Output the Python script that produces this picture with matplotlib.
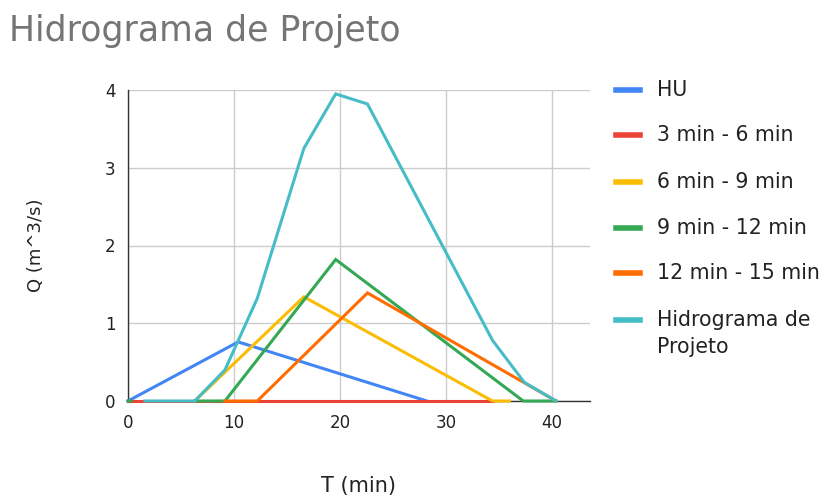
import matplotlib
matplotlib.use("Agg")
import matplotlib.pyplot as plt
from matplotlib.lines import Line2D

plt.rcParams['font.family'] = ['DejaVu Sans']

# Data
hu_t = [0, 10.4, 28.2]
hu_q = [0, 0.76, 0]

r36_t = [0, 34.4]
r36_q = [0, 0]

r69_t = [6.3, 16.6, 34.4, 36.0]
r69_q = [0, 1.34, 0, 0]

r912_t = [0, 0.3, None, 6.3, 9.15, 19.6, 37.3, 40.4]
r912_q = [0, 0, None, 0, 0, 1.82, 0, 0]

r1215_t = [9.15, 12.2, 22.6, 40.4]
r1215_q = [0, 0, 1.39, 0]

hp_t = [1.6, 6.3, 9.15, 12.2, 16.6, 19.6, 22.6, 34.4, 37.4, 40.4]
hp_q = [0, 0, 0.40, 1.32, 3.25, 3.95, 3.82, 0.78, 0.24, 0]

labels = ["HU", "3 min - 6 min", "6 min - 9 min", "9 min - 12 min",
          "12 min - 15 min", "Hidrograma de\nProjeto"]
colors = ["#4285F4", "#EA4335", "#FBBC04", "#34A853", "#FF6D01", "#46BDC6"]

x_ticks = [0, 10, 20, 30, 40]
y_ticks = [0, 1, 2, 3, 4]

fig = plt.figure(figsize=(8.2, 4.95), dpi=100)
ax = fig.add_axes([128/820, 1-401/495, (590-128)/820, (401-90)/495])

series = [(hu_t, hu_q), (r36_t, r36_q), (r69_t, r69_q), (r912_t, r912_q),
          (r1215_t, r1215_q), (hp_t, hp_q)]
for (t, q), c in zip(series, colors):
    tt = [float('nan') if v is None else v for v in t]
    qq = [float('nan') if v is None else v for v in q]
    ax.plot(tt, qq, color=c, lw=2.2, solid_joinstyle='miter', zorder=3, clip_on=False)

ax.set_xlim(0, 43.6)
ax.set_ylim(0, 4)
ax.set_xticks(x_ticks)
ax.set_yticks(y_ticks)
ax.grid(True, color="#cccccc", lw=1)
ax.set_axisbelow(True)
for s in ["top", "right"]:
    ax.spines[s].set_visible(False)
ax.spines["left"].set_color("#333333")
ax.spines["bottom"].set_color("#333333")
ax.spines["left"].set_linewidth(1)
ax.spines["bottom"].set_linewidth(1)
ax.tick_params(length=0, labelsize=12, colors="#222222", pad=9)
ax.tick_params(axis='x', pad=9)

fig.text(359/820, 1-486/495, "T (min)", ha="center", va="center", fontsize=15, color="#222222")
fig.text(36/820, 1-245/495, "Q (m^3/s)", ha="center", va="center", rotation=90, fontsize=13, color="#222222")

fig.text(9/820, 1-31/495, "Hidrograma de Projeto", ha="left", va="center", fontsize=25, color="#757575")

# Legend
rows = [90, 135, 182, 228, 273, 320]
for lab, c, yy in zip(labels, colors, rows):
    yf = 1 - yy/495
    fig.add_artist(Line2D([616/820, 640/820], [yf, yf], color=c, lw=4, transform=fig.transFigure))
    if "\n" in lab:
        fig.text(657/820, yf + 10/495, lab, ha="left", va="top",
                 fontsize=14.8, color="#222222", linespacing=1.45)
    else:
        fig.text(657/820, yf, lab, ha="left", va="center",
                 fontsize=14.8, color="#222222")

fig.savefig("out.png", dpi=100)
